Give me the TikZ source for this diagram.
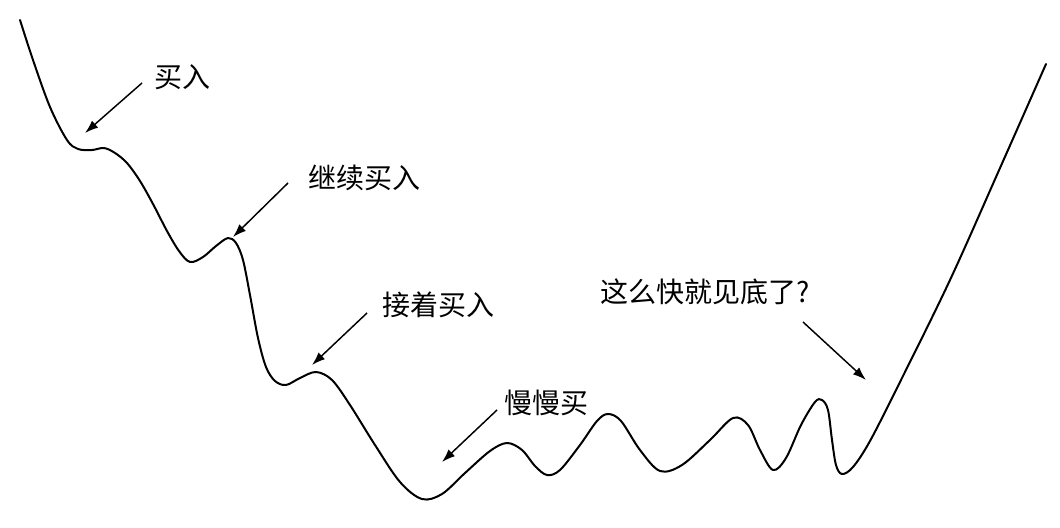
\documentclass[tikz,border=0pt]{standalone}
\usepackage{fontspec}
\newfontfamily\cjk{Noto Sans CJK SC}
\usetikzlibrary{arrows.meta}
\begin{document}
\begin{tikzpicture}[x=0.75pt,y=-0.75pt,
  lbl/.style={font=\cjk\fontsize{21pt}{25pt}\selectfont, inner sep=0pt},
  curve/.style={line width=1.5pt, line join=round, line cap=round},
  pointer/.style={line width=1.1pt, -{Latex[length=10pt,width=7pt]}}]
\useasboundingbox (0,0) rectangle (1060,528);
\fill[white] (0,0) rectangle (1060,528);
\draw[curve] plot[smooth, tension=0.55] coordinates {
 (20,20) (33,60) (50,107) (67,140) (78,149) (92,150) (104,148) (115,153)
 (127,163) (140,181) (153,204) (167,231) (179,251) (190,262) (203,257) (216,246) (228,238) (236,243)
 (243,260) (250,295) (258,338) (266,367) (275,381) (286,385) (300,378) (316,372)
 (332,380) (350,405) (375,445) (400,482) (422,499) (442,494) (465,473) (490,451)
 (507,443) (522,450) (535,466) (547,475) (560,470) (580,445) (597,421) (608,414)
 (621,421) (640,450) (660,471) (682,465) (710,440) (733,418) (748,425) (760,450)
 (773,470) (786,458) (801,425) (815,402) (822,400) (828,410) (832,440) (836,465)
 (842,474) (853,467) (870,441) (900,382) (950,280) (1000,168) (1046,64)};
\node[lbl] (t1) at (182,77) {买入};
\node[lbl] (t2) at (364,178) {继续买入};
\node[lbl] (t3) at (438,305) {接着买入};
\node[lbl] (t4) at (546,403) {慢慢买};
\node[lbl] (t5) at (705,292) {这么快就见底了?};
\coordinate (s1) at (142,83);  \coordinate (e1) at (85,133);
\coordinate (s2) at (288,183); \coordinate (e2) at (233,237);
\coordinate (s3) at (367,313); \coordinate (e3) at (312,365);
\coordinate (s4) at (497,410); \coordinate (e4) at (442,462);
\coordinate (s5) at (803,322); \coordinate (e5) at (866,380);
\draw[pointer] (s1) -- (e1);
\draw[pointer] (s2) -- (e2);
\draw[pointer] (s3) -- (e3);
\draw[pointer] (s4) -- (e4);
\draw[pointer] (s5) -- (e5);
\end{tikzpicture}
\end{document}
